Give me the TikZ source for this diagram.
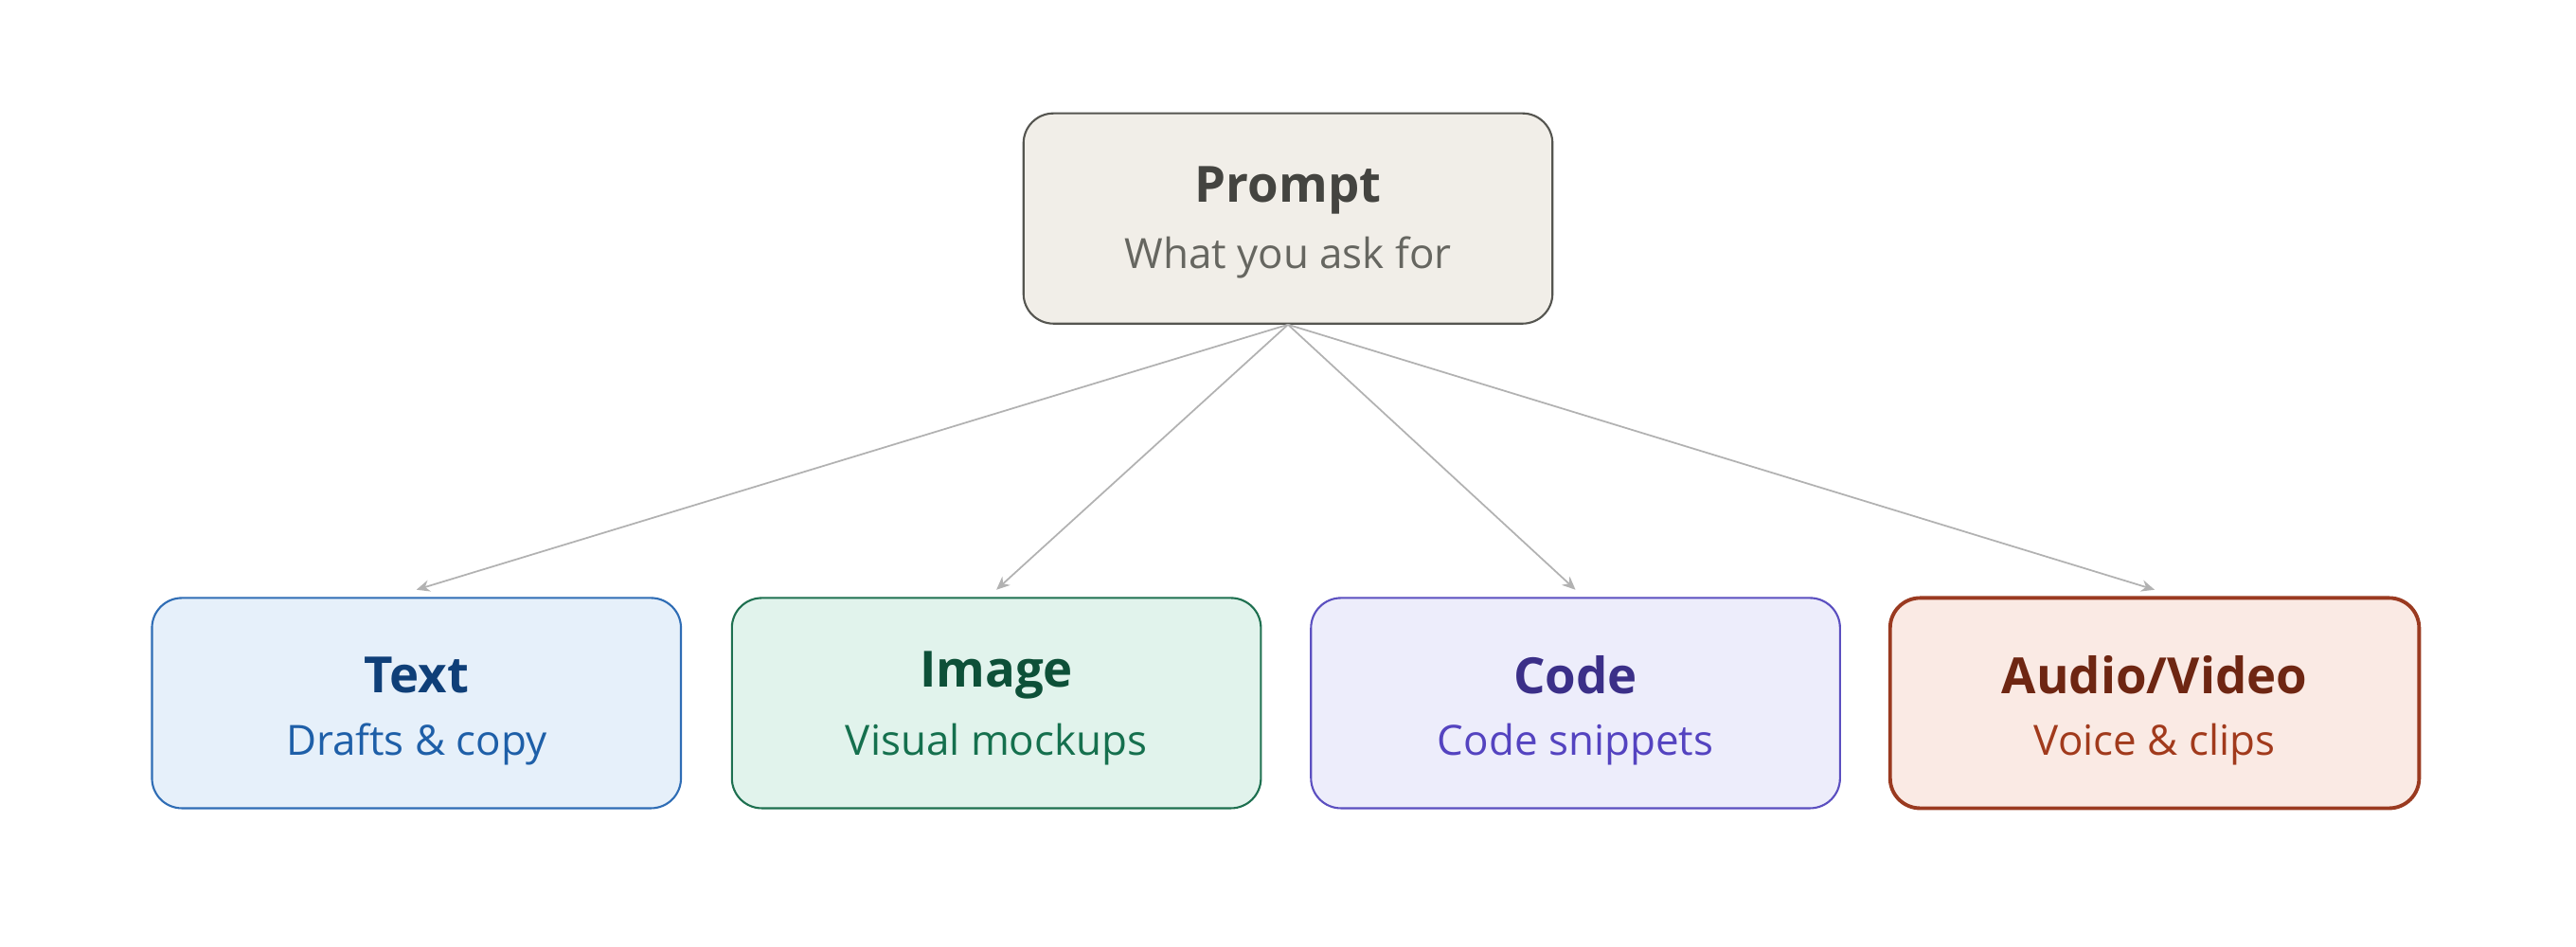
\documentclass[tikz,border=0pt]{standalone}
\usepackage{fontspec}
\setmainfont{Open Sans}
\usetikzlibrary{arrows.meta}
\definecolor{pf}{HTML}{F1EEE8}\definecolor{pb}{HTML}{555550}\definecolor{pt}{HTML}{444440}\definecolor{ps}{HTML}{666660}
\definecolor{tf}{HTML}{E6F0FA}\definecolor{tb}{HTML}{2F6DB5}\definecolor{tt}{HTML}{0F3F78}\definecolor{ts}{HTML}{1E5FA8}
\definecolor{if}{HTML}{E1F3EC}\definecolor{ib}{HTML}{1E7050}\definecolor{it}{HTML}{0D5038}\definecolor{is}{HTML}{15704E}
\definecolor{cf}{HTML}{EDEDFB}\definecolor{cb}{HTML}{5B4FC0}\definecolor{ct}{HTML}{3B2F88}\definecolor{cs}{HTML}{5443C0}
\definecolor{af}{HTML}{FAEAE4}\definecolor{ab}{HTML}{9A3A20}\definecolor{at}{HTML}{6E2612}\definecolor{as}{HTML}{A13A1C}
\begin{document}
\begin{tikzpicture}[x=0.01735cm,y=-0.01735cm,
 box/.style={draw,rounded corners=9pt,line width=0.6pt,minimum width=322*0.01735cm,minimum height=128*0.01735cm,inner sep=0pt},
 ttl/.style={font=\fontsize{15}{18}\selectfont\bfseries},
 sub/.style={font=\fontsize{12.5}{15}\selectfont},
 arr/.style={draw=black!30,line width=0.5pt,-{Stealth[length=4pt,width=3.5pt]}}]
\useasboundingbox (0,0) rectangle (1568,576);
\node[box,fill=pf,draw=pb] (p) at (784,133) {};
\node[ttl,text=pt] (pt) at (784,116) {Prompt};
\node[sub,text=ps] (ps) at (784,157) {What you ask for};
\foreach \n/\x/\f/\b/\t/\s/\A/\B/\w in {t/253.5/tf/tb/tt/ts/Text/Drafts \& copy/0.6pt, i/606.5/if/ib/it/is/Image/Visual mockups/0.6pt, c/959/cf/cb/ct/cs/Code/Code snippets/0.6pt, a/1311.5/af/ab/at/as/Audio\slash Video/Voice \& clips/1.1pt}{
 \node[box,fill=\f,draw=\b,line width=\w] (\n) at (\x,428) {};
 \node[ttl,text=\t] (\n t) at (\x,411) {\A};
 \node[sub,text=\s] (\n s) at (\x,453) {\B};
 \coordinate (\n e) at (\x,359);
 \draw[arr] (p.south) -- (\n e);
}
\end{tikzpicture}
\end{document}
